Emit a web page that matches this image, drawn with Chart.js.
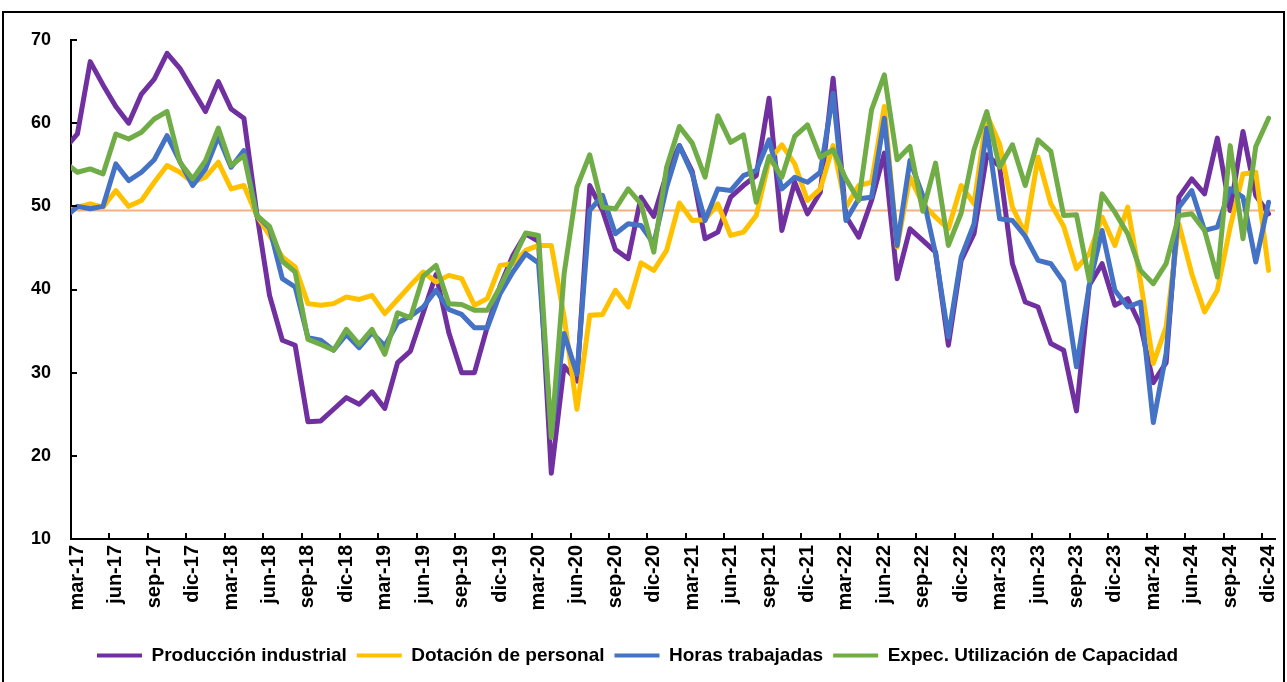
<!DOCTYPE html>
<html lang="es">
<head>
<meta charset="utf-8">
<title>Indicadores industriales</title>
<script src="https://cdn.jsdelivr.net/npm/chart.js@4.4.1/dist/chart.umd.min.js"></script>
<style>
  html, body { margin: 0; padding: 0; background: #fff; }
  #wrap { position: relative; width: 1287px; height: 682px; overflow: hidden; }
  #marco { position: absolute; left: 2px; top: 11px; width: 1279px; height: 700px; border: 2px solid #000; pointer-events: none; }
  canvas { position: absolute; left: 0; top: 0; }
</style>
</head>
<body>
<div id="wrap">
  <canvas id="grafico" width="1287" height="682"></canvas>
  <div id="marco"></div>
</div>
<script>
// ==============================
// DATOS (feb-17 .. dic-24, el eje arranca en mar-17)
// ==============================
const NOMBRES_MES = ["ene", "feb", "mar", "abr", "may", "jun", "jul", "ago", "sep", "oct", "nov", "dic"];

const meses = [];
for (let a = 17; a <= 24; a++) {
  for (let m = 0; m < 12; m++) {
    if (a === 17 && m < 1) continue;
    meses.push(NOMBRES_MES[m] + "-" + a);
  }
}

const produccion = [56.9,
  58.7, 67.4, 64.6, 62.0, 60.0, 63.5, 65.3, 68.4, 66.6, 64.0,
  61.4, 65.0, 61.7, 60.6, 49.2, 39.3, 33.9, 33.3, 24.1, 24.2,
  25.6, 27.0, 26.2, 27.7, 25.7, 31.2, 32.6, 37.2, 41.8, 34.8,
  30.0, 30.0, 35.5, 40.4, 44.1, 46.7, 45.8, 17.9, 30.8, 29.0,
  52.5, 49.5, 44.8, 43.7, 51.1, 48.8, 53.9, 57.3, 54.2, 46.1,
  46.9, 51.1, 52.5, 53.7, 63.0, 47.1, 52.9, 49.1, 51.7, 65.4,
  48.8, 46.3, 50.7, 56.4, 41.3, 47.3, 45.9, 44.5, 33.3, 43.5,
  46.7, 56.2, 54.8, 43.1, 38.5, 37.9, 33.5, 32.7, 25.4, 40.5,
  43.1, 38.1, 38.9, 35.7, 28.8, 31.2, 51.1, 53.3, 51.5, 58.2,
  49.5, 59.0, 51.3, 49.1];

const dotacion = [49.2,
  49.9, 50.3, 49.9, 51.9, 50.0, 50.7, 52.9, 54.9, 54.1, 52.9,
  53.5, 55.3, 52.1, 52.5, 48.9, 46.5, 43.9, 42.7, 38.3, 38.1,
  38.3, 39.1, 38.8, 39.3, 37.1, 38.8, 40.5, 42.1, 40.9, 41.7,
  41.3, 38.1, 38.9, 42.9, 43.1, 44.7, 45.3, 45.3, 36.7, 25.6,
  36.9, 37.0, 39.9, 37.9, 43.2, 42.3, 44.7, 50.4, 48.3, 48.4,
  50.3, 46.5, 46.9, 48.9, 55.5, 57.4, 55.1, 50.7, 52.1, 57.3,
  49.9, 52.5, 52.9, 62.0, 45.1, 53.5, 50.3, 48.7, 47.3, 52.5,
  50.3, 61.0, 57.5, 49.9, 46.7, 55.9, 50.3, 47.6, 42.5, 44.3,
  48.7, 45.3, 49.9, 41.0, 31.1, 35.5, 47.9, 41.9, 37.3, 39.9,
  47.5, 53.9, 54.1, 42.3];

const horas = [48.6,
  50.0, 49.7, 50.0, 55.1, 53.1, 54.1, 55.6, 58.5, 55.4, 52.5,
  54.5, 58.4, 54.7, 56.7, 48.9, 47.4, 41.3, 40.3, 34.2, 33.9,
  32.7, 34.6, 33.0, 34.8, 33.2, 36.0, 36.8, 37.9, 39.9, 37.6,
  37.0, 35.4, 35.4, 39.5, 42.1, 44.3, 43.2, 22.6, 34.7, 29.8,
  49.5, 51.3, 46.7, 47.9, 47.7, 45.5, 52.3, 57.3, 53.9, 48.3,
  52.1, 51.9, 53.7, 54.3, 58.0, 52.1, 53.5, 52.9, 54.1, 63.6,
  48.3, 50.9, 51.1, 60.6, 45.3, 55.5, 51.3, 44.3, 34.3, 43.9,
  47.9, 59.4, 48.5, 48.3, 46.4, 43.5, 43.1, 40.9, 30.7, 40.5,
  47.1, 39.9, 37.9, 38.5, 24.0, 32.3, 49.9, 51.9, 47.1, 47.5,
  52.1, 51.1, 43.3, 50.5];

const capacidad = [55.3,
  54.1, 54.5, 53.9, 58.7, 58.1, 58.9, 60.5, 61.4, 55.3, 53.3,
  55.5, 59.4, 54.9, 56.1, 48.9, 47.6, 43.4, 42.1, 34.0, 33.4,
  32.7, 35.2, 33.4, 35.2, 32.2, 37.2, 36.6, 41.6, 42.9, 38.3,
  38.2, 37.5, 37.5, 40.3, 43.5, 46.8, 46.5, 22.2, 41.9, 52.3,
  56.2, 49.9, 49.7, 52.1, 50.3, 44.5, 54.7, 59.6, 57.6, 53.5,
  60.9, 57.7, 58.6, 50.5, 56.0, 53.5, 58.4, 59.8, 55.9, 56.8,
  53.3, 50.7, 61.6, 65.8, 55.6, 57.2, 49.4, 55.2, 45.3, 49.2,
  56.8, 61.4, 54.7, 57.4, 52.5, 58.0, 56.6, 48.9, 49.0, 41.1,
  51.5, 49.3, 46.7, 42.3, 40.7, 43.1, 48.9, 49.1, 47.1, 41.5,
  57.3, 46.1, 57.2, 60.6];

const UMBRAL = 49.5;

// posiciones de etiquetas (mar-17, jun-17, ... dic-24) y marcas del eje
const etiquetasX = [];
for (let j = 1; j < meses.length; j += 3) etiquetasX.push(j);
const marcasX = [];
for (let j = 3.5; j < meses.length; j += 3) marcasX.push(j);
const marcasY = [10, 20, 30, 40, 50, 60, 70];

// ==============================
// ESTILO
// ==============================
const FUENTE = '"Liberation Sans", Arial, sans-serif';
Chart.defaults.color = "#000";
Chart.defaults.font.family = FUENTE;

function serie(valores) {
  return valores.map((v, j) => ({ x: j, y: v }));
}

function dataset(label, valores, color, orden) {
  return {
    label,
    data: serie(valores),
    borderColor: color,
    backgroundColor: color,
    borderWidth: 5,
    pointRadius: 0,
    tension: 0,
    borderJoinStyle: "round",
    borderCapStyle: "round",
    clip: 0,
    order: orden
  };
}

// ==============================
// PLUGINS
// ==============================
const lineaUmbral = {
  id: "lineaUmbral",
  beforeDatasetsDraw(chart) {
    const { ctx, chartArea: a, scales: { y } } = chart;
    const py = y.getPixelForValue(UMBRAL);
    ctx.save();
    ctx.strokeStyle = "#F4B183";
    ctx.lineWidth = 2;
    ctx.beginPath();
    ctx.moveTo(a.left, py);
    ctx.lineTo(a.right, py);
    ctx.stroke();
    ctx.restore();
  }
};

const marcasEje = {
  id: "marcasEje",
  afterDatasetsDraw(chart) {
    const { ctx, chartArea: a, scales: { x, y } } = chart;
    ctx.save();
    ctx.strokeStyle = "#000";
    ctx.lineWidth = 2;
    ctx.beginPath();
    marcasX.forEach(v => {
      const px = Math.round(x.getPixelForValue(v));
      ctx.moveTo(px, a.bottom);
      ctx.lineTo(px, a.bottom - 6);
    });
    marcasY.forEach(v => {
      const py = Math.round(y.getPixelForValue(v));
      ctx.moveTo(a.left, py);
      ctx.lineTo(a.left + 6, py);
    });
    ctx.stroke();
    ctx.restore();
  }
};

// ==============================
// GRAFICO
// ==============================
const ctx = document.getElementById("grafico").getContext("2d");

new Chart(ctx, {
  type: "line",
  data: {
    datasets: [
      dataset("Producción industrial", produccion, "#7030A0", 3),
      dataset("Dotación de personal", dotacion, "#FFC000", 2),
      dataset("Horas trabajadas", horas, "#4472C4", 1),
      dataset("Expec. Utilización de Capacidad", capacidad, "#70AD47", 0)
    ]
  },
  options: {
    responsive: false,
    animation: false,
    devicePixelRatio: 1,
    layout: { padding: { left: 0, right: 12, top: 40, bottom: 7 } },
    plugins: {
      tooltip: { enabled: false },
      legend: {
        position: "bottom",
        labels: {
          boxWidth: 45,
          boxHeight: 4,
          padding: 10,
          font: { size: 19, weight: "bold" },
          sort: (a, b) => a.datasetIndex - b.datasetIndex,
          generateLabels: chart =>
            Chart.defaults.plugins.legend.labels.generateLabels(chart)
              .map(l => ({ ...l, lineWidth: 0 }))
        }
      }
    },
    scales: {
      x: {
        type: "linear",
        min: 0.5,
        max: meses.length - 0.5,
        grid: { display: false, drawTicks: false },
        border: { display: true, color: "#000", width: 2 },
        afterBuildTicks: s => { s.ticks = etiquetasX.map(v => ({ value: v })); },
        afterFit: s => { s.height = 97; s.paddingLeft = 0; s.paddingRight = 0; },
        ticks: {
          autoSkip: false,
          minRotation: 90,
          maxRotation: 90,
          padding: 6,
          font: { size: 20, weight: "bold" },
          callback: v => meses[v] ?? ""
        }
      },
      y: {
        min: 10,
        max: 70,
        grid: { display: false, drawTicks: false },
        border: { display: true, color: "#000", width: 2 },
        afterFit: s => { s.width = 71; },
        ticks: {
          stepSize: 10,
          padding: 20,
          font: { size: 18, weight: "bold" }
        }
      }
    }
  },
  plugins: [lineaUmbral, marcasEje]
});
</script>
</body>
</html>
